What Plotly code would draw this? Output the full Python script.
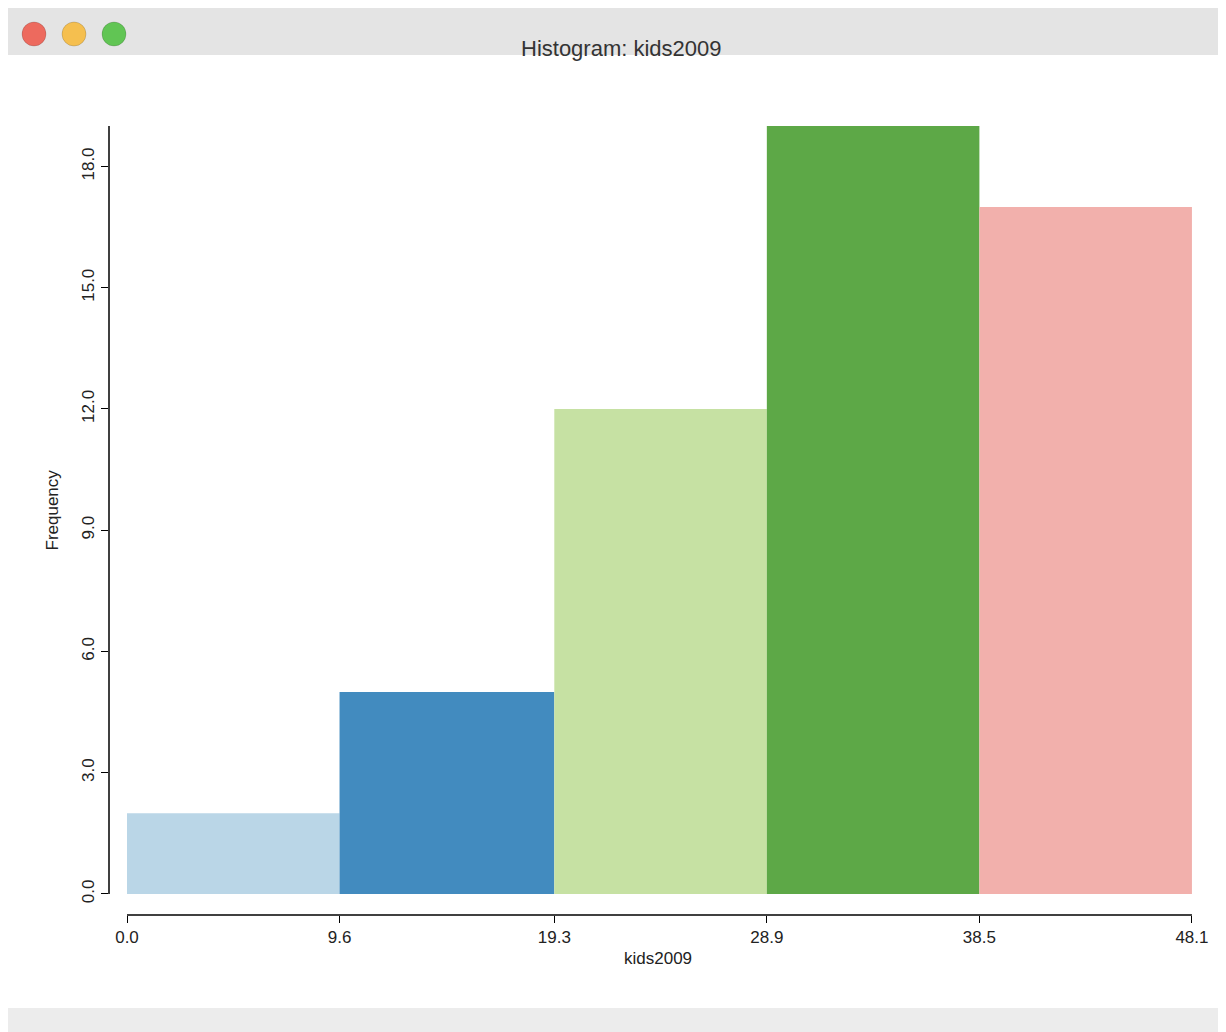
import plotly.graph_objects as go

edges = [0.0, 9.6, 19.3, 28.9, 38.5, 48.1]
edge_labels = ["0.0", "9.6", "19.3", "28.9", "38.5", "48.1"]
counts = [2, 5, 12, 19, 17]
colors = ["#bad6e7", "#428bbf", "#c6e1a3", "#5da847", "#f2b0ac"]
y_ticks = [0, 3, 6, 9, 12, 15, 18]

W, H = 1226, 1032
L, R, T, B = 101, 31, 110, 125
pw, ph = W - L - R, H - T - B

def px(x):
    return (x - L) / pw

def py(y):
    return (H - B - y) / ph

centers = [(edges[i] + edges[i + 1]) / 2 for i in range(len(counts))]
widths = [edges[i + 1] - edges[i] for i in range(len(counts))]

fig = go.Figure(go.Bar(x=centers, y=counts, width=widths, marker=dict(color=colors, line_width=0)))

font = dict(family="Liberation Sans, Arial", size=17, color="#222")
fig.update_layout(
    width=W, height=H, margin=dict(l=L, r=R, t=T, b=B),
    paper_bgcolor="white", plot_bgcolor="white", showlegend=False, font=font,
    xaxis=dict(range=[-0.813, 48.6], tickvals=edges, ticktext=edge_labels, showgrid=False,
               zeroline=False, ticks="outside", ticklen=7, tickcolor="black"),
    yaxis=dict(range=[-0.52, 19.2], tickvals=y_ticks, ticktext=[f"{v:.1f}" for v in y_ticks],
               showgrid=False, zeroline=False, ticks="outside", ticklen=7, tickcolor="black",
               tickangle=-90),
)

shapes = [
    dict(type="line", xref="x", yref="paper", x0=edges[0], x1=edges[-1], y0=0, y1=0,
         line=dict(color="black", width=1.5)),
    dict(type="line", xref="paper", yref="y", x0=0, x1=0, y0=0, y1=19,
         line=dict(color="black", width=1.5)),
    # window chrome
    dict(type="rect", xref="paper", yref="paper", x0=px(0), x1=px(W), y0=py(47), y1=py(0),
         fillcolor="#e4e4e4", line_width=0, layer="below"),
    dict(type="rect", xref="paper", yref="paper", x0=px(0), x1=px(W), y0=py(H), y1=py(1000),
         fillcolor="#ececec", line_width=0, layer="below"),
]
for cx, c in zip([26, 66, 106], ["#ed6a5e", "#f5bf4f", "#61c554"]):
    shapes.append(dict(type="circle", xref="paper", yref="paper",
                       x0=px(cx - 12), x1=px(cx + 12), y0=py(38), y1=py(14),
                       fillcolor=c, line=dict(color="rgba(0,0,0,0.15)", width=1)))
fig.update_layout(shapes=shapes)

fig.add_annotation(text="Histogram: kids2009", xref="paper", yref="paper", x=px(613), y=py(26),
                   showarrow=False, font=dict(family="Liberation Sans, Arial", size=22, color="#333"))
fig.add_annotation(text="kids2009", xref="paper", yref="paper", x=px(650), y=py(962),
                   showarrow=False, font=font)
fig.add_annotation(text="Frequency", xref="paper", yref="paper", x=px(33), y=py(502),
                   showarrow=False, textangle=-90, font=font)

fig.write_html("out.html")
